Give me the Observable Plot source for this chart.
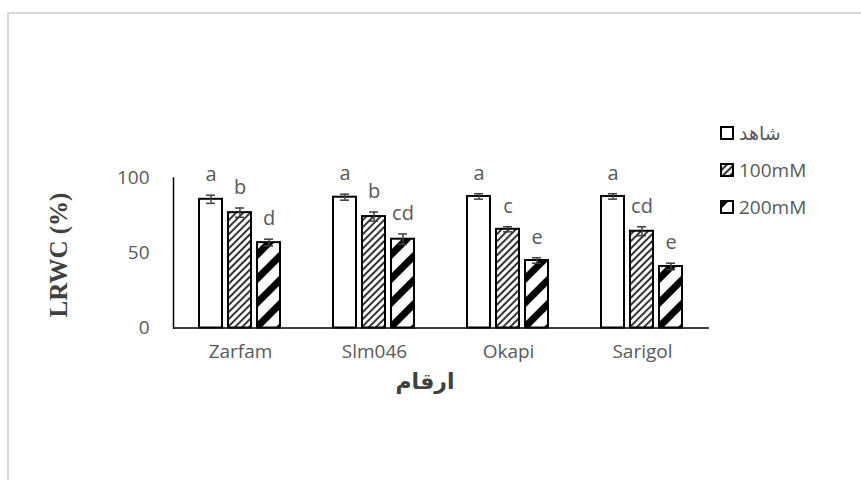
<!DOCTYPE html>
<html>
<head>
<meta charset="utf-8">
<script src="https://cdn.jsdelivr.net/npm/d3@7"></script>
<script src="https://cdn.jsdelivr.net/npm/@observablehq/plot@0.6"></script>
<style>
  html, body { margin: 0; padding: 0; background: #fff; }
  #wrap { position: relative; width: 861px; height: 480px; overflow: hidden; font-family: "Open Sans", "DejaVu Sans", sans-serif; }
  #border { position: absolute; left: 7px; top: 12px; width: 900px; height: 500px; border-left: 2px solid #d9d9d9; border-top: 2px solid #d9d9d9; }
  #chart { position: absolute; left: 0; top: 0; }
  .ytitle { position: absolute; left: 59px; top: 255px; transform: translate(-50%, -50%) rotate(-90deg); font-family: "Liberation Serif", "Times New Roman", serif; font-weight: bold; font-size: 25px; color: #404040; white-space: nowrap; }
  .xtitle { position: absolute; left: 425px; top: 382px; transform: translate(-50%, -50%); font-family: "Liberation Serif", "DejaVu Sans", serif; font-weight: bold; font-size: 22px; color: #404040; white-space: nowrap; }
  #legend { position: absolute; left: 720px; top: 0; }
  .item { position: absolute; left: 0; display: flex; align-items: center; height: 24px; transform: translateY(-50%); white-space: nowrap; font-size: 19px; color: #595959; }
  .item svg { margin-right: 5px; display: block; }
</style>
</head>
<body>
<svg width="0" height="0" style="position:absolute">
  <defs>
    <pattern id="hatchFine" patternUnits="userSpaceOnUse" width="5" height="5" patternTransform="rotate(45)">
      <rect width="5" height="5" fill="#ffffff"></rect>
      <rect x="0" y="0" width="2" height="5" fill="#333333"></rect>
    </pattern>
    <pattern id="hatchBold" patternUnits="userSpaceOnUse" width="17" height="17" patternTransform="rotate(45)">
      <rect width="17" height="17" fill="#ffffff"></rect>
      <rect x="0" y="0" width="7" height="17" fill="#000000"></rect>
    </pattern>
  </defs>
</svg>
<div id="wrap">
  <div id="border"></div>
  <div id="chart"></div>
  <div class="ytitle">LRWC (%)</div>
  <div class="xtitle">ارقام</div>
  <div id="legend"></div>
</div>
<script>
// ---- data ----
const categories = ["Zarfam", "Slm046", "Okapi", "Sarigol"];
const treatments = ["شاهد", "100mM", "200mM"];
const controlValues = [85.8, 87.2, 87.7, 87.7];
const mM100Values   = [76.9, 74.3, 65.8, 64.5];
const mM200Values   = [56.9, 59.2, 45.0, 41.0];
const controlErr = [2.7, 2.0, 1.8, 1.8];
const mM100Err   = [3.1, 3.0, 1.7, 3.0];
const mM200Err   = [2.3, 3.5, 1.8, 2.2];
const controlLetters = ["a", "a", "a", "a"];
const mM100Letters   = ["b", "b", "c", "cd"];
const mM200Letters   = ["d", "cd", "e", "e"];
const yTicks = [0, 50, 100];
const fills = ["#ffffff", "url(#hatchFine)", "url(#hatchBold)"];

const seriesValues = [controlValues, mM100Values, mM200Values];
const seriesErr = [controlErr, mM100Err, mM200Err];
const seriesLetters = [controlLetters, mM100Letters, mM200Letters];

const rows = [];
categories.forEach((cat, i) => {
  treatments.forEach((trt, j) => {
    rows.push({cat, trt, value: seriesValues[j][i], err: seriesErr[j][i], letter: seriesLetters[j][i]});
  });
});

const chart = Plot.plot({
  width: 861,
  height: 480,
  marginLeft: 171,
  marginRight: 151,
  marginTop: 177.5,
  marginBottom: 152.5,
  style: {fontFamily: "'Open Sans', sans-serif", fontSize: "19px", color: "#595959", background: "transparent"},
  fx: {domain: categories, padding: 0, axis: "bottom", tickSize: 0, tickPadding: 16, label: null},
  x: {domain: treatments, paddingInner: 0.2, paddingOuter: 0.85, axis: null},
  y: {domain: [0, 100], ticks: yTicks, tickSize: 0, tickPadding: 24, label: null},
  color: {domain: treatments, range: fills},
  marks: [
    Plot.barY(rows, {fx: "cat", x: "trt", y: "value", fill: "trt", stroke: "black", strokeWidth: 2}),
    Plot.ruleX(rows, {fx: "cat", x: "trt", y1: d => d.value - d.err, y2: d => d.value + d.err, stroke: "#404040", strokeWidth: 1.5}),
    Plot.tickY(rows, {fx: "cat", x: "trt", y: d => d.value - d.err, inset: 7, stroke: "#404040", strokeWidth: 1.5}),
    Plot.tickY(rows, {fx: "cat", x: "trt", y: d => d.value + d.err, inset: 7, stroke: "#404040", strokeWidth: 1.5}),
    Plot.text(rows, {fx: "cat", x: "trt", y: d => d.value + d.err, text: "letter", lineAnchor: "bottom", dy: -14, fill: "#595959", fontSize: 20}),
    Plot.ruleY([0], {stroke: "black", strokeWidth: 1.5}),
    Plot.frame({anchor: "left", facetAnchor: "left", stroke: "black", strokeWidth: 1.5})
  ]
});
document.getElementById("chart").appendChild(chart);

// legend
const legend = d3.select("#legend");
const legendY = [133, 170, 207];
treatments.forEach((t, j) => {
  const item = legend.append("div").attr("class", "item").style("top", legendY[j] + "px");
  const s = item.append("svg").attr("width", 14).attr("height", 14);
  s.append("rect").attr("x", 1).attr("y", 1).attr("width", 12).attr("height", 12)
    .attr("fill", fills[j]).attr("stroke", "black").attr("stroke-width", 2);
  item.append("span").text(t);
});
</script>
</body>
</html>
